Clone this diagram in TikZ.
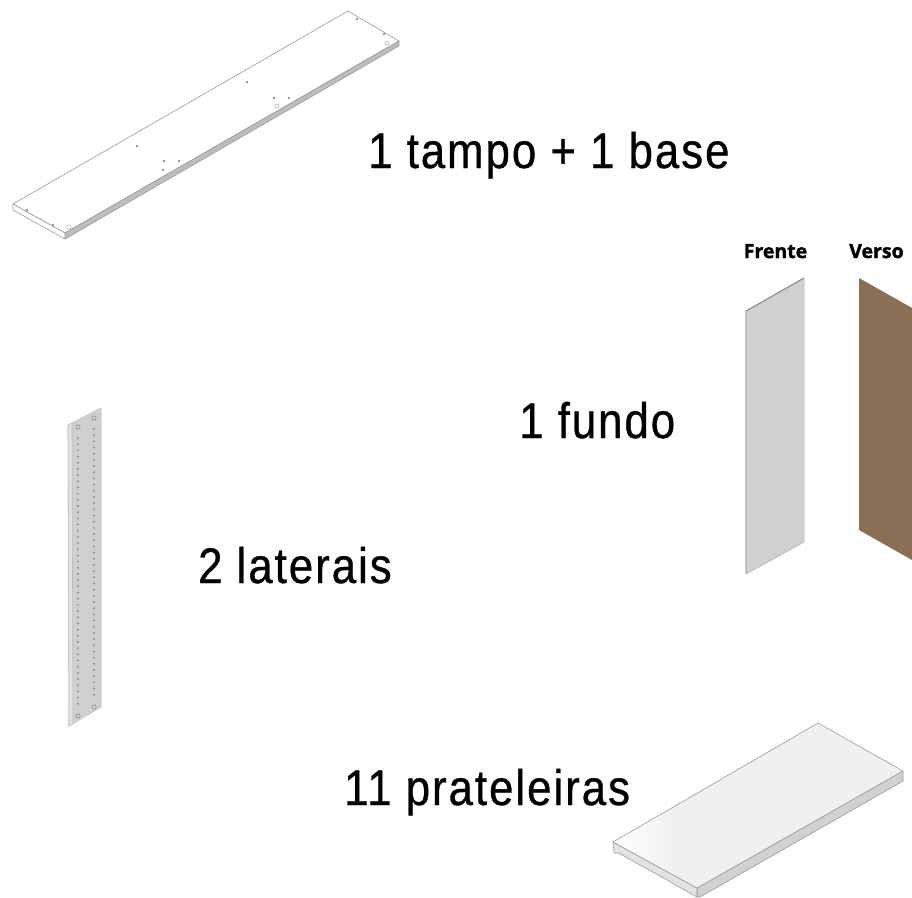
\documentclass[tikz,border=0pt]{standalone}
\usepackage{fontspec}
\newfontfamily\labelfont[FakeStretch=0.875,LetterSpace=4,FakeBold=0.7]{Liberation Sans}
\newfontfamily\headfont[FakeBold=1.5]{Open Sans}
\definecolor{edgegray}{HTML}{9A9A9A}
\definecolor{sidegray}{HTML}{BDBDBD}
\definecolor{panelgray}{HTML}{D0D0D0}
\definecolor{lightgray}{HTML}{E2E2E2}
\definecolor{topgray}{HTML}{F0F0F0}
\definecolor{backbrown}{HTML}{8B6F54}
\pgfdeclarehorizontalshading{shelftop}{100bp}{color(0bp)=(white); color(25bp)=(white); color(36bp)=(topgray); color(100bp)=(topgray)}
\tikzset{
  countlabel/.style={font=\labelfont\fontsize{50}{50}\selectfont,anchor=base west,inner sep=0pt},
  facelabel/.style={font=\headfont\bfseries\fontsize{19.5}{19.5}\selectfont,anchor=base,inner sep=0pt},
  outline/.style={draw=edgegray,line width=0.6pt,line join=round}
}
\begin{document}
\begin{tikzpicture}[x=1pt,y=-1pt]
\useasboundingbox (0,0) rectangle (912,897);
\draw[outline,fill=white] (13,204) -- (348,11) -- (399,41) -- (65,233) -- cycle;
\draw[outline,fill=sidegray] (65,233) -- (399,41) -- (399,46) -- (65,239) -- cycle;
\draw[outline,fill=white] (13,204) -- (65,233) -- (65,239) -- (13,210) -- cycle;
\foreach \x/\y in {137/146,164/161,179/161,163/170,27/210,53/225,247/82,274/98,289/98,357/19,384/34}
  \fill[black!55] (\x,\y) circle [radius=1.1];
\foreach \x/\y in {69/227,277/106,387/43}
  \draw[edgegray] (\x,\y) circle [radius=2.2];

\draw[draw=sidegray,fill=panelgray,line width=0.6pt] (68,425) -- (101,408) -- (101,707) -- (69,726) -- cycle;
\draw[draw=sidegray,fill=lightgray,line width=0.6pt] (68,425) -- (72,423) -- (73,724) -- (69,726) -- cycle;
\foreach \n in {0,...,43} {
  \fill[black!45] (78,438+\n*6.18) circle [radius=1.1];
  \fill[black!45] (94,429+\n*6.18) circle [radius=1.1];
}
\foreach \x/\y in {78/427,94/418,78/716,94/707}
  \draw[black!55] (\x,\y) circle [radius=2.2];

\fill[panelgray] (746,311) -- (804,278) -- (804,542) -- (746,574) -- cycle;
\draw[edgegray!80!black,line width=0.9pt] (746,574) -- (746,311) -- (804,278);
\draw[sidegray,line width=0.9pt] (804,278) -- (804,542) -- (746,574);
\fill[backbrown] (859,278) -- (912,308) -- (912,560) -- (859,530) -- cycle;

\clip (0,0) rectangle (912,897);
\draw[outline,fill=sidegray!70] (697,888) -- (903,771) -- (903,781) -- (700,897) -- (697,897) -- cycle;
\draw[outline,fill=lightgray] (613,842) -- (697,888) -- (697,897) -- (672,883) -- (669,881) -- (622,855) -- (619,853) -- (614,853) -- cycle;
\draw[outline,shading=shelftop] (613,842) -- (818,723) -- (903,771) -- (697,888) -- cycle;

\node[countlabel] (tampo) at (368,168) {1 tampo + 1 base};
\node[countlabel] (fundo) at (519,438) {1 fundo};
\node[countlabel] (laterais) at (198,583) {2 laterais};
\node[countlabel] (prateleiras) at (344,805) {11 prateleiras};
\node[facelabel] (frente) at (775.5,258) {Frente};
\node[facelabel] (verso) at (876.5,258) {Verso};
\end{tikzpicture}
\end{document}
